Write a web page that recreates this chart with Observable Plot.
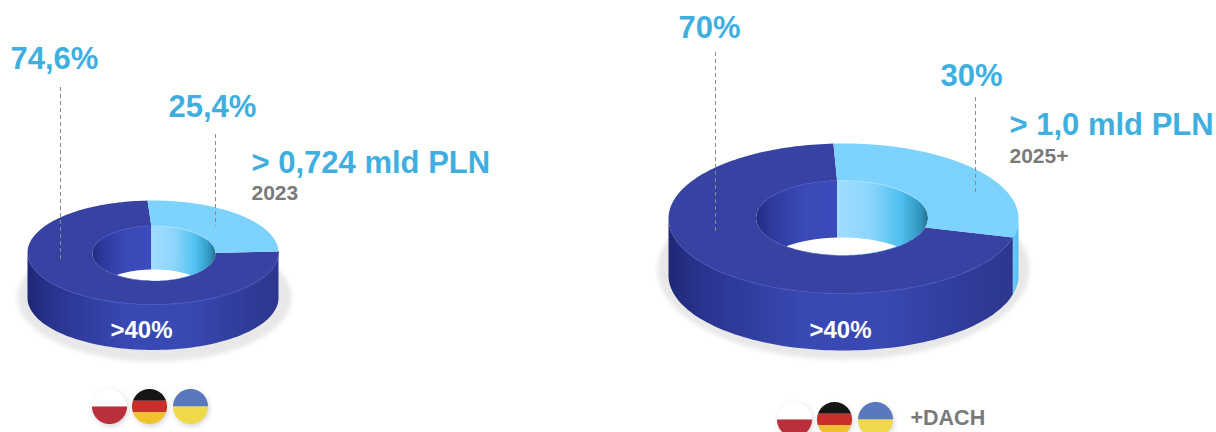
<!DOCTYPE html>
<html lang="pl">
<head>
<meta charset="utf-8">
<title>Struktura przychodów</title>
<script src="https://cdn.jsdelivr.net/npm/d3@7"></script>
<script src="https://cdn.jsdelivr.net/npm/@observablehq/plot@0.6"></script>
<style>
  html, body { margin: 0; padding: 0; background: #fff; }
  svg { display: block; }
</style>
</head>
<body>
<div id="chart"></div>
<script>
// Values shown on the two rings
const periods = ["2023", "2025+"];
const totals = ["> 0,724 mld PLN", "> 1,0 mld PLN"];
const darkShare = [74.6, 70];
const lightShare = [25.4, 30];
const ringCaption = [">40%", ">40%"];
const footNote = ["", "+DACH"];

// Flags under each ring, as stripes from top to bottom
const flagStripes = [
  ["#ffffff", "#b9303a"],
  ["#161616", "#c9302c", "#f2c12e"],
  ["#5a78bd", "#f0d94a"]
];

// Ring drawing parameters, in page units
const rings = [
  {cx: 152.5, cy: 252, rx: 125.5, ry: 52, hx: 153.5, hy: 253, hrx: 61.5, hry: 27.5, depth: 45.5, lensDrop: 44, start: -2.5,
   shadow: {cx: 154, cy: 297, rx: 137, ry: 64},
   darkLabel: {x: 10, y: 59}, lightLabel: {x: 168, y: 107},
   total: {x: 251, y: 163}, period: {x: 251, y: 193},
   darkRule: {x: 60, y1: 87, y2: 260}, lightRule: {x: 215, y1: 134, y2: 226},
   caption: {x: 110, y: 330},
   flags: {y: 406, r: 17.5, xs: [109, 149, 190]}},
  {cx: 843, cy: 218, rx: 175, ry: 75, hx: 841.5, hy: 217.5, hrx: 86, hry: 37.5, depth: 57, lensDrop: 57.5, start: -3.3,
   shadow: {cx: 843, cy: 269, rx: 186, ry: 90},
   darkLabel: {x: 678, y: 28}, lightLabel: {x: 940, y: 76},
   total: {x: 1009, y: 125}, period: {x: 1009, y: 156},
   darkRule: {x: 715, y1: 52, y2: 232}, lightRule: {x: 975, y1: 97, y2: 193},
   caption: {x: 809, y: 330},
   flags: {y: 419, r: 17.5, xs: [794, 834, 875]},
   note: {x: 910, y: 418}}
];

const palette = {
  dark: "#3842a2", light: "#7dd3fd",
  text: "#3fafe0", grey: "#7a7a7a", shadow: "#e8e8e8", rule: "#8a8a8a"
};

const rad = (deg) => (deg * Math.PI) / 180;
const steps = (a, b, n = 90) => d3.range(n + 1).map((i) => a + ((b - a) * i) / n);
const onEllipse = (cx, cy, rx, ry, deg) => ({x: cx + rx * Math.sin(rad(deg)), y: cy - ry * Math.cos(rad(deg))});

// Any closed outline becomes a filled line mark on the shared scales
const shape = (points, fill, extra = {}) => Plot.line(points, {x: "x", y: "y", fill, stroke: "none", ...extra});

// Horizontal gradients for the curved walls
const gradientDefs = () => {
  const defs = d3.create("svg:defs");
  const add = (id, stops) => {
    const g = defs.append("linearGradient").attr("id", id).attr("x1", 0).attr("x2", 1).attr("y1", 0).attr("y2", 0);
    stops.forEach(([o, c]) => g.append("stop").attr("offset", o).attr("stop-color", c));
  };
  add("wallDark", [[0, "#1f2875"], [0.1, "#2a348f"], [0.4, "#3949b4"], [0.62, "#3949b4"], [0.88, "#303b98"], [1, "#2d378e"]]);
  add("wallLight", [[0, "#6dcbf8"], [1, "#54bdf0"]]);
  add("holeDark", [[0, "#232c82"], [0.22, "#2f3ba0"], [0.6, "#3b4ab8"], [1, "#3c4bbb"]]);
  add("holeLight", [[0, "#a2dcff"], [0.35, "#8ed6fd"], [0.7, "#4fc0f0"], [0.92, "#2f94bd"], [1, "#256f8c"]]);
  return defs.node();
};

function ringMarks(ring, i) {
  const {cx, cy, rx, ry, hx, hy, hrx, hry, depth, lensDrop, start} = ring;
  const split = start + (360 * lightShare[i]) / 100;
  const end = start + (360 * (lightShare[i] + darkShare[i])) / 100;
  const outer = (deg, dy = 0) => onEllipse(cx, cy + dy, rx, ry, deg);
  const inner = (deg, dy = 0) => onEllipse(hx, hy + dy, hrx, hry, deg);

  // Wall of the outer edge between two angles
  const wall = (a, b) => [...steps(a, b).map((d) => outer(d)), ...steps(b, a).map((d) => outer(d, depth))];
  // Flat top of one sector
  const sector = (a, b) => [...steps(a, b, 180).map((d) => outer(d)), ...steps(b, a, 180).map((d) => inner(d))];

  // The hole: full ellipse cut at the slice boundary, then the see-through lens
  const cutX = inner(start).x;
  const holeSide = (from, to) => {
    const xs = steps(from, to, 120);
    const half = (x) => hry * Math.sqrt(Math.max(0, 1 - ((x - hx) / hrx) ** 2));
    return [...xs.map((x) => ({x, y: hy - half(x)})), ...xs.slice().reverse().map((x) => ({x, y: hy + half(x)}))];
  };
  const lens = steps(hx - hrx, hx + hrx, 200)
    .map((x) => {
      const h = hry * Math.sqrt(1 - ((x - hx) / hrx) ** 2);
      return {x, y1: hy + lensDrop - h, y2: hy + h};
    })
    .filter((d) => d.y2 > d.y1);

  const shadow = steps(0, 360, 180).map((d) => onEllipse(ring.shadow.cx, ring.shadow.cy, ring.shadow.rx, ring.shadow.ry, d));

  const marks = [
    shape(shadow, palette.shadow, {imageFilter: "blur(2px)"}),
    shape(holeSide(hx - hrx, cutX), "url(#holeDark)"),
    shape(holeSide(cutX, hx + hrx), "url(#holeLight)"),
    Plot.areaY(lens, {x: "x", y1: "y1", y2: "y2", fill: "#fff"})
  ];
  if (split > 90) marks.push(shape(wall(90, split), "url(#wallLight)"));
  marks.push(
    shape(wall(Math.max(split, 90), 270), "url(#wallDark)"),
    shape(sector(split, end), palette.dark),
    shape(sector(start, split), palette.light),
    // Fine highlights along the rims
    Plot.line(steps(split, 250).map((d) => outer(d)), {x: "x", y: "y", stroke: "#4555c6", strokeWidth: 1, strokeOpacity: 0.8}),
    Plot.line(steps(-70, start).map((d) => inner(d)), {x: "x", y: "y", stroke: "#4452c4", strokeWidth: 1, strokeOpacity: 0.8}),
    Plot.line(steps(start, 60).map((d) => inner(d)), {x: "x", y: "y", stroke: "#a8e2ff", strokeWidth: 1})
  );

  // Dashed leaders
  [ring.darkRule, ring.lightRule].forEach((r) => {
    marks.push(Plot.ruleX([r], {x: "x", y1: "y1", y2: "y2", stroke: palette.rule, strokeWidth: 1, strokeDasharray: "4 3"}));
  });

  // Texts
  const label = (at, text, fontSize, fill) =>
    Plot.text([at], {x: "x", y: "y", text: () => text, fontSize, fill, fontWeight: 700, textAnchor: "start",
                     fontFamily: "Liberation Sans", lineAnchor: "middle"});
  const pct = (v) => String(v).replace(".", ",") + "%";
  marks.push(
    label(ring.darkLabel, pct(darkShare[i]), 31, palette.text),
    label(ring.lightLabel, pct(lightShare[i]), 31, palette.text),
    label(ring.total, totals[i], 31, palette.text),
    label(ring.period, periods[i], 21, palette.grey),
    label(ring.caption, ringCaption[i], 24, "#ffffff")
  );
  if (ring.note) marks.push(label(ring.note, footNote[i], 21.5, palette.grey));

  // Round flags built from horizontal stripes
  ring.flags.xs.forEach((fx, f) => {
    const fy = ring.flags.y, r = ring.flags.r;
    marks.push(Plot.dot([{x: fx + 1, y: fy + 2}], {x: "x", y: "y", r, fill: "#d4d4d4", imageFilter: "blur(2.5px)"}));
    const n = flagStripes[f].length;
    flagStripes[f].forEach((color, s) => {
      const a = 180 - (180 * Math.acos(1 - (2 * s) / n)) / Math.PI;
      const b = 180 - (180 * Math.acos(1 - (2 * (s + 1)) / n)) / Math.PI;
      const right = steps(a, b, 30).map((d) => onEllipse(fx, fy, r, r, 180 - d));
      const left = steps(b, a, 30).map((d) => onEllipse(fx, fy, r, r, 180 + d));
      marks.push(shape([...right, ...left], color));
    });
  });
  return marks;
}

const chart = Plot.plot({
  width: 1216,
  height: 432,
  margin: 0,
  style: {background: "#fff"},
  x: {domain: [0, 1216], range: [0, 1216], axis: null},
  y: {domain: [0, 432], range: [0, 432], axis: null},
  marks: [gradientDefs, ...rings.flatMap(ringMarks)]
});
document.getElementById("chart").append(chart);
</script>
</body>
</html>
